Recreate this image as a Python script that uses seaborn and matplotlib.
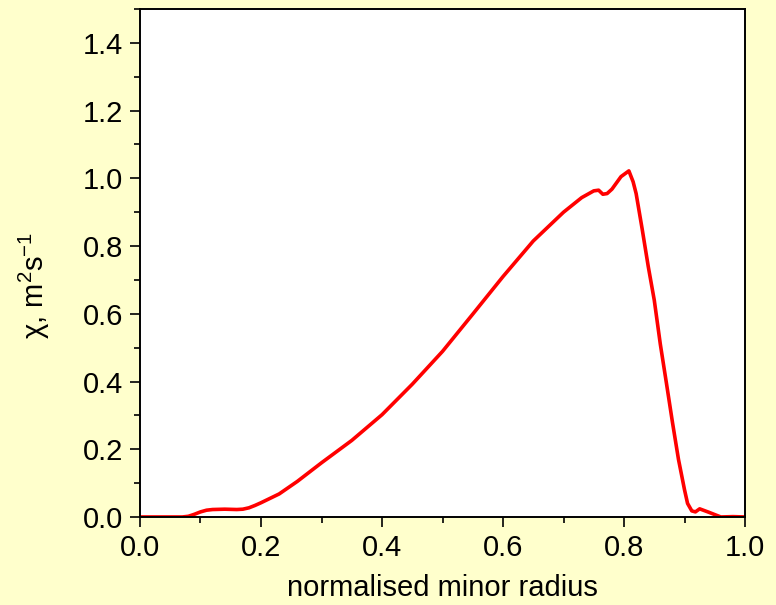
import matplotlib
matplotlib.use("Agg")
import matplotlib.pyplot as plt
from matplotlib.ticker import MultipleLocator
import seaborn as sns
import pandas as pd

# Thermal diffusivity profile versus normalised minor radius
radius = [0.00, 0.04, 0.07, 0.08, 0.09, 0.10, 0.11, 0.12, 0.14, 0.16, 0.17,
          0.18, 0.19, 0.20, 0.23, 0.26, 0.30, 0.35, 0.40, 0.45, 0.50, 0.55,
          0.60, 0.65, 0.70, 0.73, 0.75, 0.758, 0.765, 0.772, 0.78, 0.795,
          0.808, 0.815, 0.82, 0.83, 0.84, 0.85, 0.86, 0.87, 0.88, 0.89,
          0.90, 0.905, 0.912, 0.918, 0.925, 0.94, 0.96, 0.98, 1.00]
chi = [0.000, 0.000, 0.000, 0.002, 0.008, 0.015, 0.020, 0.022, 0.023, 0.022, 0.023,
       0.027, 0.034, 0.042, 0.068, 0.105, 0.160, 0.226, 0.302, 0.392, 0.489, 0.599,
       0.710, 0.815, 0.900, 0.943, 0.963, 0.965, 0.953, 0.955, 0.968, 1.005,
       1.022, 0.990, 0.955, 0.850, 0.740, 0.640, 0.510, 0.396, 0.280, 0.170,
       0.080, 0.040, 0.018, 0.015, 0.024, 0.014, 0.000, 0.001, 0.000]
x_ticks = [0.0, 0.2, 0.4, 0.6, 0.8, 1.0]
y_ticks = [0.0, 0.2, 0.4, 0.6, 0.8, 1.0, 1.2, 1.4]

df = pd.DataFrame({"radius": radius, "chi": chi})

sns.set_style("ticks")
plt.rcParams["font.family"] = ["Liberation Sans", "DejaVu Sans"]
plt.rcParams["mathtext.fontset"] = "custom"
plt.rcParams["mathtext.rm"] = "Liberation Sans"
plt.rcParams["mathtext.it"] = "Liberation Sans"
plt.rcParams["mathtext.default"] = "regular"

bg = "#FFFFCC"
fig = plt.figure(figsize=(7.76, 6.05), dpi=100, facecolor=bg)
ax = fig.add_axes([0.1804, 0.1455, 0.7797, 0.8396])
ax.set_facecolor("white")

sns.lineplot(data=df, x="radius", y="chi", color="#FF0000", linewidth=2.6, ax=ax)

ax.set_xlim(0, 1.0)
ax.set_ylim(0, 1.5)
ax.set_xticks(x_ticks)
ax.set_xticklabels([f"{v:.1f}" for v in x_ticks])
ax.set_yticks(y_ticks)
ax.set_yticklabels([f"{v:.1f}" for v in y_ticks])
ax.xaxis.set_minor_locator(MultipleLocator(0.1))
ax.yaxis.set_minor_locator(MultipleLocator(0.1))

for side in ["left", "bottom", "top", "right"]:
    ax.spines[side].set_visible(True)
    ax.spines[side].set_linewidth(1.4)
    ax.spines[side].set_color("black")

ax.tick_params(axis="both", which="major", direction="out", length=7, width=1.2,
               labelsize=21, colors="black", labelcolor="black", pad=5)
ax.tick_params(axis="both", which="minor", direction="out", length=4, width=1.2,
               colors="black")
ax.tick_params(top=False, right=False, which="both")

ax.set_xlabel("normalised minor radius", fontsize=21, color="black", va="top")
ax.set_ylabel(r"$\chi$, m$^{2}$s$^{-1}$", fontsize=21, color="black")
ax.xaxis.set_label_coords(0.5, -0.112)
ax.yaxis.set_label_coords(-0.145, 0.455)

fig.savefig("out.png", dpi=100, facecolor=bg)
